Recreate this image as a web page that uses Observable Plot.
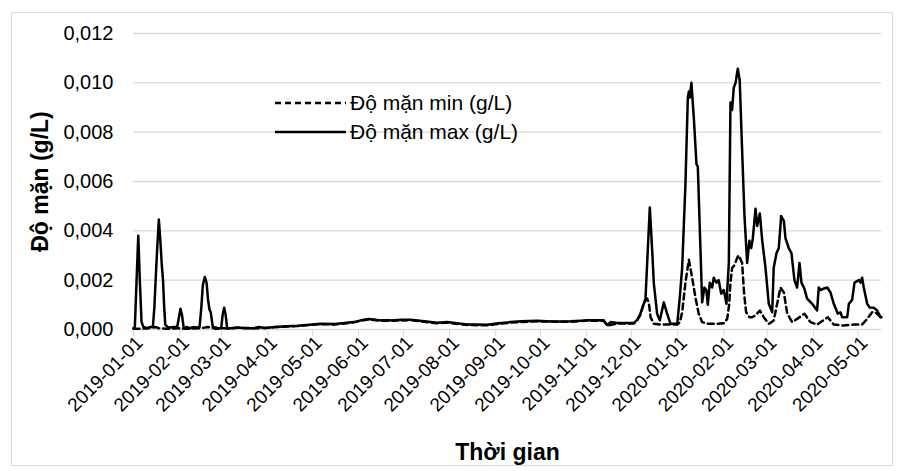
<!DOCTYPE html>
<html>
<head>
<meta charset="utf-8">
<script src="https://cdn.jsdelivr.net/npm/d3@7"></script>
<script src="https://cdn.jsdelivr.net/npm/@observablehq/plot@0.6"></script>
<style>
  html, body { margin: 0; padding: 0; background: #fff; }
  #wrap { position: relative; width: 904px; height: 471px; font-family: Arial, "Liberation Sans", sans-serif; }
  #border { position: absolute; left: 11px; top: 12px; width: 882px; height: 454px; border: 1px solid #d9d9d9; box-sizing: border-box; pointer-events: none; }
  #chart { position: absolute; left: 0; top: 0; }
  .leg { position: absolute; display: flex; align-items: center; font-size: 21px; color: #000; white-space: nowrap; }
  .leg svg { margin-right: 4px; }
</style>
</head>
<body>
<div id="wrap">
  <div id="border"></div>
  <div id="chart"></div>
</div>
<script>
// ---- Data (day offsets from 2019-01-01, values in g/L) ----
const startDate = "2019-01-01";
const endDay = 501.7;

const maxDays = [0,0.9,2,3.2,4.3,5.4,6.7,9,11,13,14,15,16,17,18,19,19.8,20.5,21.3,23,25,27,29.3,30.5,31.5,32.5,33.7,36,38,40,42,44.3,45.5,46.5,47.8,49,50,51,51.8,53.2,55,57,58.8,59.8,60.8,61.8,62.8,65,70,75,80.5,84,88,95,103,110,120,125.4,135,147.8,153,157.6,162,165.7,172.4,180,185.8,195,203.7,210.4,217,223.8,230,237.2,245,252.8,260,270.8,280,293.1,300,304.3,310,315.4,317.7,320,324.4,330,335.5,338,340,343.4,346.3,347.9,349,351.2,353,355.7,357.9,360.2,364.7,366.4,368,370.2,371.8,372.5,373.1,374.2,375.8,377.6,378.5,380.3,381.4,382.9,384.2,385.2,386.5,388.1,389.2,391,392.5,394.2,395.9,397.7,399.3,400.4,401.5,402.6,403.8,405.3,406.6,408.2,409.8,411.6,413.1,414.3,415.4,417.2,418.3,420.1,421.7,423.9,426.1,428.4,429.4,431.3,432.8,434.4,436.2,437.3,439.5,441.3,443.3,445.1,446.7,448,450,451.8,455.2,458.5,459.6,460.8,462.6,465.3,467.5,469.7,472.4,474.2,475.3,478.7,479.8,482,483.6,486.5,487.6,488.7,489.8,492.1,493.8,496.5,498.8,501,501.7];
const maxVals = [0.00005,0.0001,0.0019,0.0038,0.0019,0.0003,0.0001,0.00005,0.0001,0.0001,0.0009,0.0022,0.0034,0.00446,0.0036,0.0026,0.002,0.001,0.0002,0.0001,0.00008,0.0001,0.0001,0.0005,0.00084,0.0006,0.00005,0.0001,0.00005,0.0001,0.00008,0.0001,0.0009,0.0018,0.00213,0.0019,0.0012,0.0008,0.0007,0.0001,0.00008,0.00005,0.00005,0.0006,0.00088,0.0006,0.00005,0.00005,0.00008,0.00005,0.00005,0.0001,0.00006,0.0001,0.00013,0.00015,0.0002,0.00023,0.00022,0.0003,0.00038,0.00043,0.0004,0.00037,0.00037,0.0004,0.0004,0.00033,0.00027,0.0003,0.00025,0.0002,0.0002,0.00019,0.00025,0.0003,0.00033,0.00035,0.00032,0.00033,0.00035,0.00038,0.00037,0.00037,0.00018,0.0003,0.00026,0.00026,0.00026,0.0004,0.00064,0.00125,0.00495,0.0032,0.00186,0.00064,0.00037,0.0011,0.00064,0.00023,0.00023,0.0013,0.0025,0.0059,0.0094,0.00965,0.0094,0.0100,0.0086,0.0067,0.0066,0.0032,0.0011,0.0017,0.0016,0.001,0.0019,0.0017,0.0021,0.0019,0.002,0.00145,0.0016,0.00104,0.0027,0.0092,0.0089,0.0098,0.0100,0.01057,0.0101,0.0073,0.0046,0.0027,0.0036,0.0033,0.0037,0.0049,0.0042,0.0047,0.0036,0.0025,0.00104,0.0007,0.0025,0.0031,0.0033,0.0046,0.0044,0.0037,0.0033,0.0031,0.002,0.0017,0.0027,0.0019,0.00165,0.00125,0.00104,0.00077,0.0017,0.0016,0.00165,0.0017,0.0015,0.00104,0.00064,0.0007,0.0005,0.0005,0.00104,0.0012,0.0019,0.002,0.0019,0.0021,0.0017,0.00104,0.00089,0.00088,0.00077,0.0005,0.0005];

const minDays = [0,5,10,15,17,22,30,35,45,50,55,60,65,70,80.5,88,95,103,110,120,125.4,135,147.8,153,157.6,165.7,172.4,185.8,195,203.7,210.4,223.8,237.2,252.8,270.8,293.1,304.3,315.4,317.7,324.4,335.5,338,340,342.2,344.5,345.6,346.8,349,353.5,360,364.7,366.5,368,370.2,372.5,374.7,376.9,379.1,381.4,385,390,395.9,398.2,399.5,400.4,401.5,403,404.9,405.8,407.1,408.2,409.5,410.9,413.1,415,417.2,420.1,422.7,426.1,428,429.4,431.7,433.9,436.2,438.5,441.8,445.1,450,454,458.5,462.6,465.7,469.7,476.4,483.1,488.7,492.1,495.4,497.6,501,501.7];
const minVals = [0.00003,0.00003,0.00005,0.0001,0.00005,0.00003,0.00005,0.00003,0.00005,0.0001,0.00003,0.00005,0.00004,0.00007,0.00005,0.00006,0.0001,0.00012,0.00014,0.00019,0.00022,0.0002,0.00029,0.00036,0.00041,0.00035,0.00035,0.00038,0.00031,0.00025,0.00028,0.00018,0.00017,0.00028,0.00033,0.00031,0.00036,0.00035,0.00016,0.00024,0.00024,0.0004,0.0006,0.00104,0.00125,0.0011,0.0005,0.00023,0.0002,0.0002,0.0002,0.0003,0.0007,0.0019,0.00283,0.0021,0.0013,0.00064,0.0003,0.00023,0.00023,0.00025,0.00043,0.001,0.0019,0.0025,0.0026,0.0029,0.003,0.00285,0.0027,0.0015,0.0007,0.0005,0.0005,0.00057,0.00077,0.0005,0.00023,0.0003,0.00037,0.00104,0.0017,0.0015,0.00064,0.0003,0.00043,0.00064,0.0003,0.0002,0.00037,0.0005,0.0002,0.00016,0.0002,0.0002,0.00043,0.0007,0.0007,0.0005,0.0005];

const monthTicks = ["2019-01-01","2019-02-01","2019-03-01","2019-04-01","2019-05-01","2019-06-01","2019-07-01","2019-08-01","2019-09-01","2019-10-01","2019-11-01","2019-12-01","2020-01-01","2020-02-01","2020-03-01","2020-04-01","2020-05-01"];
const yTicks = [0, 0.002, 0.004, 0.006, 0.008, 0.010, 0.012];
const seriesNames = ["Độ mặn min (g/L)", "Độ mặn max (g/L)"];
const xTitle = "Thời gian";
const yTitle = "Độ mặn (g/L)";

// ---- Build ----
const t0 = Date.parse(startDate + "T00:00:00Z");
const toDate = d => new Date(t0 + d * 864e5);
const maxData = maxDays.map((d, i) => ({date: toDate(d), v: maxVals[i]}));
const minData = minDays.map((d, i) => ({date: toDate(d), v: minVals[i]}));
const tickDates = monthTicks.map(s => new Date(s + "T00:00:00Z"));
const fmtY = v => d3.format(".3f")(v).replace(".", ",");

const plot = Plot.plot({
  width: 904,
  height: 471,
  marginLeft: 133,
  marginRight: 23,
  marginTop: 33,
  marginBottom: 142,
  style: {fontFamily: "Arial, 'Liberation Sans', sans-serif", background: "transparent", overflow: "visible"},
  x: {type: "utc", domain: [toDate(0), toDate(endDay)]},
  y: {domain: [0, 0.012]},
  marks: [
    Plot.gridY(yTicks, {stroke: "#d9d9d9", strokeOpacity: 1, strokeWidth: 1.3}),
    Plot.axisY(yTicks, {tickSize: 0, tickPadding: 20, tickFormat: fmtY, fontSize: 20, fill: "#000", label: null}),
    Plot.axisX(tickDates, {tickSize: 7, stroke: "#d9d9d9", strokeOpacity: 1, label: null, tickFormat: () => ""}),
    Plot.text(tickDates, {x: d => d, frameAnchor: "bottom", dy: 5, dx: 1, rotate: -45, textAnchor: "end", lineAnchor: "top", text: d3.utcFormat("%Y-%m-%d"), fontSize: 19, fill: "#000"}),
    Plot.line(minData, {x: "date", y: "v", stroke: "#000", strokeWidth: 2.5, strokeDasharray: "6,4", curve: "linear"}),
    Plot.line(maxData, {x: "date", y: "v", stroke: "#000", strokeWidth: 2.5, curve: "linear"}),
    Plot.text([yTitle], {frameAnchor: "left", dx: -93, rotate: -90, fontSize: 23, fontWeight: "bold", fill: "#000", textAnchor: "middle", lineAnchor: "middle"}),
    Plot.text([xTitle], {frameAnchor: "bottom", dy: 123, fontSize: 23, fontWeight: "bold", fill: "#000", textAnchor: "middle", lineAnchor: "middle"})
  ]
});
document.getElementById("chart").appendChild(plot);

// ---- Legend (inside plot area, top-left) ----
const wrap = document.getElementById("wrap");
const legendRows = [{name: seriesNames[0], dash: "6,4", top: 90}, {name: seriesNames[1], dash: null, top: 119}];
legendRows.forEach(r => {
  const row = document.createElement("div");
  row.className = "leg";
  row.style.left = "275px";
  row.style.top = r.top + "px";
  row.style.height = "26px";
  row.innerHTML = `<svg width="71" height="26"><line x1="0" x2="71" y1="13" y2="13" stroke="#000" stroke-width="2.5" ${r.dash ? `stroke-dasharray="${r.dash}"` : ""}/></svg><span>${r.name}</span>`;
  wrap.appendChild(row);
});
</script>
</body>
</html>
